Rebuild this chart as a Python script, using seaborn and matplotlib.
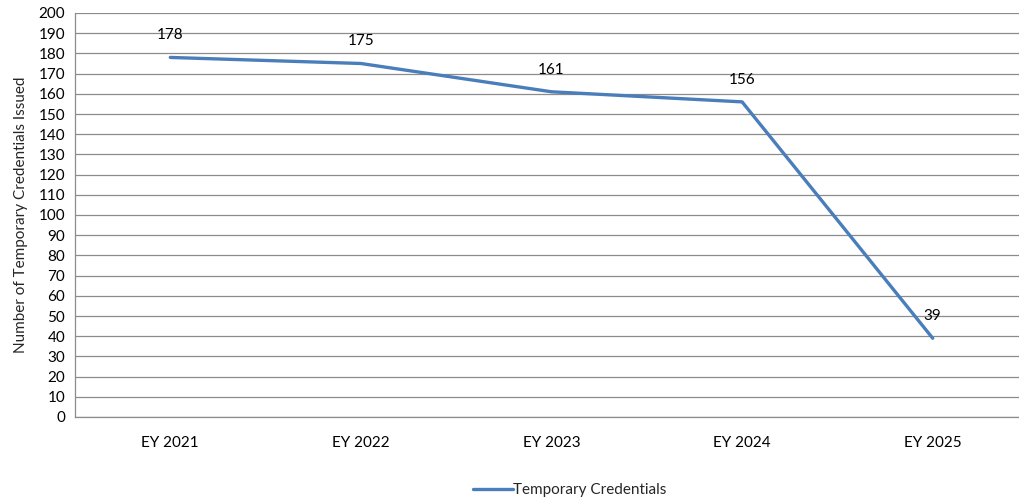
import matplotlib
matplotlib.use("Agg")
import matplotlib.pyplot as plt
import seaborn as sns
import pandas as pd
import numpy as np

categories = ["EY 2021", "EY 2022", "EY 2023", "EY 2024", "EY 2025"]
values = [178, 175, 161, 156, 39]
series_name = "Temporary Credentials"

sns.set_theme(style="white")
plt.rcParams["font.family"] = ["Lato", "DejaVu Sans"]

df = pd.DataFrame({"year": np.arange(len(categories)), "count": values, "series": series_name})

fig = plt.figure(figsize=(10.19, 5.04), dpi=100)
ax = fig.add_axes([75 / 1019, 1 - 417 / 504, (1028 - 75) / 1019, (417 - 13) / 504])

line_color = "#4A7EBB"
grid_color = "#8C8C8C"
fs = 11

sns.lineplot(data=df, x="year", y="count", hue="series", palette=[line_color],
             linewidth=2.4, ax=ax, legend=True, zorder=3)

ax.set_xlim(-0.5, len(categories) - 0.5)
ax.set_ylim(0, 200)
ax.set_yticks(np.arange(0, 201, 10))
ax.yaxis.grid(True, color=grid_color, linewidth=0.9)
ax.set_axisbelow(True)

# category labels centred, tick marks on the category boundaries
ax.set_xticks(np.arange(len(categories)))
ax.set_xticklabels(categories)
ax.set_xticks(np.arange(-0.5, len(categories), 1), minor=True)
ax.tick_params(axis="x", which="major", length=0, pad=14, labelsize=fs, colors="black")
ax.tick_params(axis="x", which="minor", length=5, width=0.9, color=grid_color, direction="out")
ax.tick_params(axis="y", length=5, width=0.9, color=grid_color, direction="out",
               labelsize=fs, pad=2, colors="black")

for side in ["top", "right"]:
    ax.spines[side].set_visible(False)
for side in ["left", "bottom"]:
    ax.spines[side].set_color(grid_color)
    ax.spines[side].set_linewidth(0.9)

ax.set_xlabel("")
ax.set_ylabel("Number of Temporary Credentials Issued", fontsize=fs, labelpad=8)

for i, v in enumerate(values):
    ax.annotate(str(v), (i, v), xytext=(0, 11), textcoords="offset points",
                ha="center", va="bottom", fontsize=fs, color="black")

ax.legend(handles=ax.get_legend().legend_handles, labels=[series_name],
          loc="center", bbox_to_anchor=(570 / 1019, 1 - 490 / 504),
          bbox_transform=fig.transFigure, frameon=False, fontsize=fs,
          handlelength=2.6, handletextpad=0.0)

fig.savefig("out.png", dpi=100)
